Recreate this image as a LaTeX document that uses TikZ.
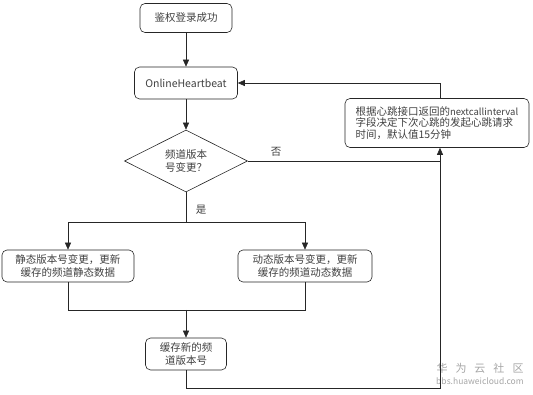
\documentclass[tikz,border=0pt]{standalone}
\usepackage{fontspec}
\setmainfont{Noto Sans CJK SC}
\usetikzlibrary{arrows.meta,shapes.geometric}
\begin{document}
\begin{tikzpicture}[x=1pt,y=-1pt, font=\fontsize{10.5}{13}\selectfont, text=black!75,
  box/.style={draw=black!85, rounded corners=5pt, line width=0.6pt, inner sep=0pt, align=center},
  conn/.style={draw=black!85, line width=0.6pt},
  arr/.style={conn, -{Triangle[length=7pt,width=6pt]}},
  lbl/.style={inner sep=0pt},
  wm/.style={inner sep=0pt, text=black!35}]
\useasboundingbox (0,0) rectangle (533,395);
\node[box, minimum width=92pt, minimum height=29pt] (start) at (186,18) {鉴权登录成功};
\node[box, minimum width=103pt, minimum height=32pt] (hb) at (186,83) {OnlineHeartbeat};
\node[draw=black!85, line width=0.6pt, diamond, aspect=2, inner sep=0pt, minimum width=123pt, minimum height=62pt, align=center] (dec) at (186,161) {频道版本\\号变更？};
\node[box, minimum width=132pt, minimum height=32pt] (stat) at (68,266) {静态版本号变更，更新\\缓存的频道静态数据};
\node[box, minimum width=134pt, minimum height=32pt] (dyn) at (305,266) {动态版本号变更，更新\\缓存的频道动态数据};
\node[box, minimum width=81pt, minimum height=32pt] (cache) at (186,354) {缓存新的频\\道版本号};
\node[box, minimum width=184pt, minimum height=49pt, align=left, text width=163pt, inner xsep=10.5pt, font=\fontsize{10.5}{11.5}\selectfont] (note) at (437,123) {根据心跳接口返回的{\fontsize{9.5}{11.5}\selectfont nextcallinterval}\\字段决定下次心跳的发起心跳请求\\时间，默认值15分钟};
\node[lbl] (no) at (276,152) {否};
\node[lbl] (yes) at (201,210) {是};
\node[wm, font=\fontsize{11}{12}\selectfont] (wm1) at (480,368) {华\hspace{8pt}为\hspace{8pt}云\hspace{8pt}社\hspace{8pt}区};
\node[wm, font=\fontsize{8.5}{10}\selectfont] (wm2) at (480,381) {bbs.huaweicloud.com};
\coordinate (split) at (186,222);
\coordinate (merge) at (186,310);
\coordinate (loopc) at (440,388);
\draw[arr] (start) -- (hb);
\draw[arr] (hb) -- (dec);
\draw[conn] (dec.south) -- (split);
\draw[arr] (split) -| (stat.north);
\draw[arr] (split) -| (dyn.north);
\draw[conn] (stat.south) |- (merge);
\draw[conn] (dyn.south) |- (merge);
\draw[arr] (merge) -- (cache.north);
\draw[arr] (cache.south) |- (loopc) -- (note.south -| loopc);
\draw[conn] (dec.east) -- (dec.east -| loopc);
\draw[arr] (note.north -| loopc) |- (hb.east);
\end{tikzpicture}
\end{document}
